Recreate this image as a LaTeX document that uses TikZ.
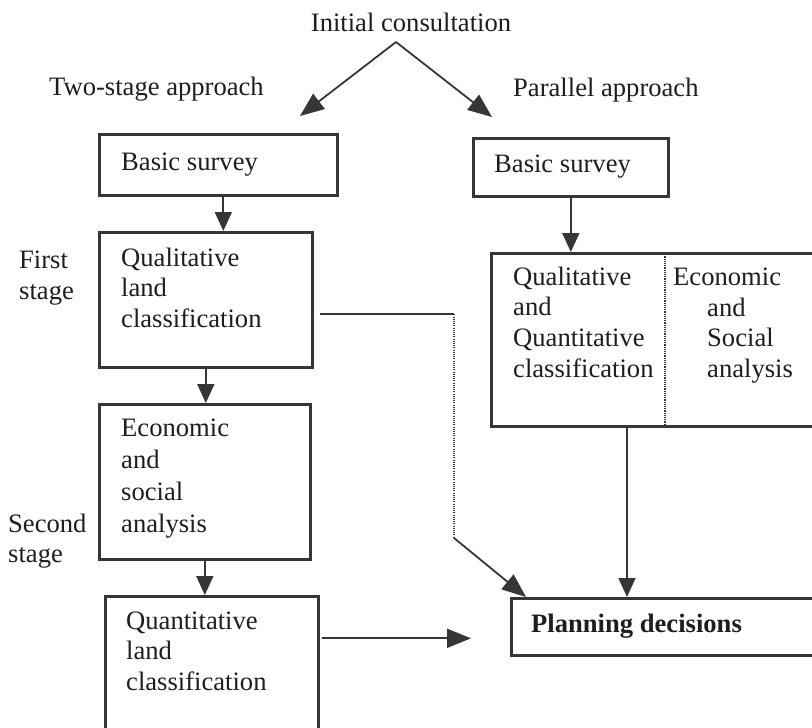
\documentclass[tikz,border=0pt]{standalone}
\usepackage{fontspec}
\setmainfont{Liberation Serif}
\usetikzlibrary{arrows.meta}
\definecolor{ink}{HTML}{363636}
\definecolor{txtc}{HTML}{1E1E1E}
\begin{document}
\begin{tikzpicture}[x=1pt,y=-1pt,
  box/.style={draw=ink, line width=2.6pt, inner sep=0pt, anchor=north west},
  txt/.style={text=txtc, font=\fontsize{26.6}{30.8}\selectfont, inner sep=0pt, anchor=base west, align=left},
  conn/.style={draw=ink, line width=1.8pt},
  arr/.style={conn, -{Triangle[length=19pt,width=17pt]}},
  bigarr/.style={conn, -{Triangle[length=24pt,width=19pt]}},
  dots/.style={draw=ink, line width=1.3pt, dash pattern=on 1.1pt off 1.1pt}
]
\path[use as bounding box, clip] (0,0) rectangle (812,728);
\fill[white] (0,0) rectangle (812,728);

% top labels (multi-line nodes are placed by the baseline of their last line)
\node[txt, anchor=base] (init) at (411,31) {Initial consultation};
\node[txt] (two) at (49,95) {Two-stage approach};
\node[txt] (par) at (513,96) {Parallel approach};
\node[txt] (first) at (19,299) {First\\stage};
\node[txt, font=\fontsize{26.6}{30}\selectfont] (second) at (8,562) {Second\\stage};

% boxes
\node[box, minimum width=238pt, minimum height=61pt] (bs1) at (98,133) {};
\node[box, minimum width=195pt, minimum height=58pt] (bs2) at (472,137) {};
\node[box, minimum width=213pt, minimum height=135pt] (ql) at (98,231) {};
\node[box, minimum width=211pt, minimum height=155pt] (eco) at (98,403) {};
\node[box, minimum width=213pt, minimum height=140pt] (qt) at (104,595) {};
\node[box, minimum width=340pt, minimum height=173pt] (big) at (490,252) {};
\node[box, minimum width=320pt, minimum height=57pt] (pd) at (510,597) {};

% box texts
\node[txt] (bs1t) at (121,170) {Basic survey};
\node[txt] (bs2t) at (494,172) {Basic survey};
\node[txt] (qlt) at (121,327.6) {Qualitative\\land\\classification};
\node[txt, font=\fontsize{26.6}{31.7}\selectfont] (ecot) at (121,532) {Economic\\and\\social\\analysis};
\node[txt] (qtt) at (126,690.6) {Quantitative\\land\\classification};
\node[txt] (bigl) at (513,377.4) {Qualitative\\and\\Quantitative\\classification};
\node[txt] (bigr1) at (673,285) {Economic};
\node[txt] (bigr2) at (707,377.6) {and\\Social\\analysis};
\node[txt, font=\bfseries\fontsize{26.6}{30.8}\selectfont] (pdt) at (531,632) {Planning decisions};

% connectors
\coordinate (apex) at (396,42);
\coordinate (lt) at (300,116);
\coordinate (rt) at (492,117);
\draw[bigarr] (apex) -- (lt);
\draw[bigarr] (apex) -- (rt);

\coordinate (a1) at ([xshift=5pt]bs1.south);
\draw[arr] (a1) -- (a1 |- ql.north);
\draw[arr] (ql.south) -- (ql.south |- eco.north);
\draw[arr] (eco.south) -- (eco.south |- qt.north);
\draw[arr] (bs2.south) -- (bs2.south |- big.north);

\coordinate (bx) at (627,0);
\draw[arr] (big.south -| bx) -- (pd.north -| bx);

\coordinate (dv) at (665,0);
\draw[dots] (big.north -| dv) -- (big.south -| dv);

\coordinate (qls) at ([xshift=6pt,yshift=-14.5pt]ql.east);
\coordinate (cx) at (454,0);
\coordinate (c2) at (454,538);
\coordinate (t1) at ([xshift=16pt]pd.north west);
\draw[conn] (qls) -- (qls -| cx);
\draw[dots] (qls -| cx) -- (c2);
\draw[bigarr] (c2) -- (t1);

\coordinate (qe) at ([xshift=2pt,yshift=28pt]qt.east);
\coordinate (qend) at (471,0);
\draw[bigarr] (qe) -- (qe -| qend);
\end{tikzpicture}
\end{document}
